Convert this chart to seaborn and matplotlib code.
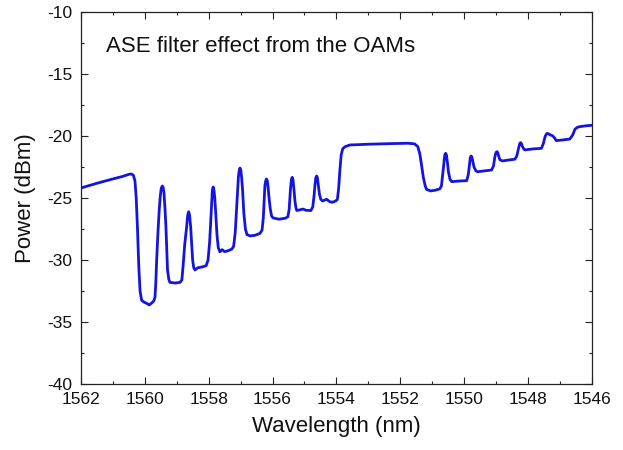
import matplotlib
matplotlib.use("Agg")
import matplotlib.pyplot as plt
from matplotlib.ticker import MultipleLocator
import seaborn as sns
import pandas as pd

wavelength_nm = [
    1562.00, 1561.50, 1561.00, 1560.70, 1560.50, 1560.42, 1560.36, 1560.31, 1560.27, 1560.23,
    1560.19, 1560.15, 1560.10, 1560.02, 1559.94, 1559.86, 1559.78, 1559.72, 1559.683, 1559.66,
    1559.63, 1559.59, 1559.55, 1559.515, 1559.486, 1559.455, 1559.425, 1559.40, 1559.37, 1559.34,
    1559.29, 1559.25, 1559.215, 1559.05, 1558.90, 1558.84, 1558.80, 1558.75, 1558.69, 1558.66,
    1558.628, 1558.60, 1558.566, 1558.535, 1558.503, 1558.47, 1558.43, 1558.34, 1558.20, 1558.08,
    1558.02, 1557.97, 1557.93, 1557.90, 1557.885, 1557.86, 1557.835, 1557.81, 1557.78, 1557.74,
    1557.70, 1557.65, 1557.58, 1557.50, 1557.40, 1557.28, 1557.22, 1557.17, 1557.12, 1557.07,
    1557.045, 1557.02, 1556.995, 1556.97, 1556.94, 1556.90, 1556.85, 1556.80, 1556.70, 1556.55,
    1556.40, 1556.33, 1556.29, 1556.26, 1556.24, 1556.215, 1556.19, 1556.165, 1556.14, 1556.11,
    1556.07, 1556.03, 1555.98, 1555.80, 1555.60, 1555.52, 1555.48, 1555.44, 1555.41, 1555.385,
    1555.36, 1555.33, 1555.30, 1555.27, 1555.24, 1555.15, 1555.05, 1554.95, 1554.80, 1554.74,
    1554.70, 1554.67, 1554.645, 1554.62, 1554.595, 1554.57, 1554.53, 1554.49, 1554.43, 1554.31,
    1554.20, 1554.12, 1554.02, 1553.97, 1553.93, 1553.89, 1553.85, 1553.80, 1553.73, 1553.58,
    1553.00, 1552.30, 1551.75, 1551.55, 1551.45, 1551.39, 1551.33, 1551.28, 1551.22, 1551.18,
    1551.05, 1550.90, 1550.76, 1550.71, 1550.66, 1550.63, 1550.605, 1550.58, 1550.555, 1550.53,
    1550.49, 1550.44, 1550.39, 1550.15, 1549.92, 1549.87, 1549.83, 1549.805, 1549.78, 1549.755,
    1549.73, 1549.69, 1549.63, 1549.58, 1549.35, 1549.14, 1549.08, 1549.045, 1549.02, 1548.995,
    1548.97, 1548.945, 1548.92, 1548.88, 1548.80, 1548.60, 1548.41, 1548.35, 1548.31, 1548.28,
    1548.255, 1548.23, 1548.205, 1548.18, 1548.14, 1548.10, 1547.85, 1547.58, 1547.52, 1547.46,
    1547.41, 1547.36, 1547.30, 1547.24, 1547.18, 1547.11, 1546.90, 1546.69, 1546.60, 1546.53,
    1546.45, 1546.38, 1546.20, 1546.00,
]

power_dbm = [
    -24.18, -23.80, -23.45, -23.25, -23.08, -23.05, -23.15, -23.60, -25.00, -27.50,
    -30.50, -32.50, -33.25, -33.40, -33.50, -33.62, -33.45, -33.30, -33.00, -32.00,
    -30.00, -27.80, -25.95, -24.80, -24.20, -24.02, -24.15, -24.60, -25.80, -27.30,
    -30.80, -31.55, -31.80, -31.85, -31.80, -31.60, -30.40, -28.70, -27.30, -26.40,
    -26.10, -26.35, -27.30, -28.70, -30.00, -30.60, -30.80, -30.62, -30.55, -30.45,
    -30.00, -28.50, -26.50, -25.00, -24.35, -24.10, -24.35, -25.00, -26.20, -28.00,
    -29.00, -29.33, -29.16, -29.32, -29.25, -29.12, -28.90, -27.80, -25.60, -23.30,
    -22.75, -22.57, -22.75, -23.30, -24.30, -26.20, -27.50, -27.95, -28.05, -28.00,
    -27.85, -27.60, -26.60, -25.00, -24.00, -23.60, -23.45, -23.60, -24.10, -25.00,
    -25.90, -26.45, -26.60, -26.70, -26.62, -26.50, -25.90, -24.30, -23.50, -23.32,
    -23.50, -24.30, -25.20, -25.75, -26.00, -25.95, -25.88, -25.98, -26.00, -25.70,
    -24.80, -23.90, -23.35, -23.21, -23.35, -23.90, -24.70, -25.10, -25.23, -25.09,
    -25.30, -25.33, -25.22, -25.10, -24.20, -22.70, -21.50, -21.00, -20.85, -20.71,
    -20.65, -20.60, -20.57, -20.62, -20.85, -21.40, -22.40, -23.30, -24.00, -24.29,
    -24.42, -24.36, -24.25, -24.00, -22.80, -22.00, -21.50, -21.38, -21.50, -22.00,
    -22.90, -23.50, -23.67, -23.62, -23.59, -23.10, -22.20, -21.70, -21.60, -21.70,
    -22.00, -22.50, -22.80, -22.87, -22.80, -22.73, -22.40, -21.80, -21.45, -21.30,
    -21.25, -21.35, -21.60, -21.90, -22.00, -21.92, -21.86, -21.60, -21.15, -20.80,
    -20.58, -20.52, -20.60, -20.80, -21.00, -21.11, -21.03, -20.98, -20.60, -20.00,
    -19.78, -19.80, -19.90, -19.95, -20.10, -20.36, -20.30, -20.23, -19.90, -19.44,
    -19.28, -19.23, -19.17, -19.12,
]

x_ticks = [1562, 1560, 1558, 1556, 1554, 1552, 1550, 1548, 1546]
y_ticks = [-40, -35, -30, -25, -20, -15, -10]
annotation = "ASE filter effect from the OAMs"

sns.set_style("ticks")
plt.rcParams["font.family"] = ["Liberation Sans", "DejaVu Sans"]
plt.rcParams["axes.unicode_minus"] = False

df = pd.DataFrame({"Wavelength (nm)": wavelength_nm, "Power (dBm)": power_dbm})

fig = plt.figure(figsize=(6.23, 4.5), dpi=100)
ax = fig.add_axes([0.130, 0.1467, 0.820, 0.826])

sns.lineplot(data=df, x="Wavelength (nm)", y="Power (dBm)", sort=False,
             estimator=None, color="#1414e0", linewidth=2.0, ax=ax)

ax.set_xlim(1562, 1546)
ax.set_ylim(-40, -10)
ax.set_xticks(x_ticks)
ax.set_yticks(y_ticks)
ax.set_xticklabels([str(t) for t in x_ticks])
ax.set_yticklabels([str(t) for t in y_ticks])
ax.xaxis.set_minor_locator(MultipleLocator(1))
ax.yaxis.set_minor_locator(MultipleLocator(2.5))

ax.tick_params(which="both", direction="in", top=True, right=True,
               colors="#222222", width=0.8)
ax.tick_params(which="major", length=5, labelsize=12.5, pad=6, labelcolor="#111111")
ax.tick_params(which="minor", length=2.5)
for s in ax.spines.values():
    s.set_visible(True)
    s.set_linewidth(0.9)
    s.set_color("#222222")

ax.set_xlabel("Wavelength (nm)", fontsize=16, labelpad=6, color="#111111")
ax.set_ylabel("Power (dBm)", fontsize=16, labelpad=8, color="#111111")

ax.text(0.049, 0.894, annotation, transform=ax.transAxes, fontsize=16,
        ha="left", va="baseline", color="#111111")

fig.savefig("out.png", dpi=100)
